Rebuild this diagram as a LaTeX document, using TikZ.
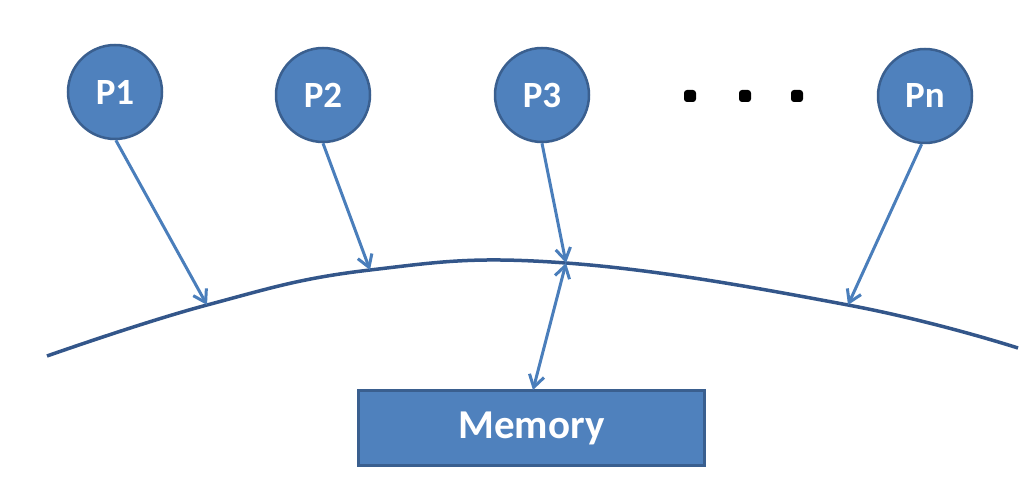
\documentclass[tikz,border=0pt]{standalone}
\usepackage{fontspec}
\setmainfont{Carlito}
\usetikzlibrary{arrows.meta}
\definecolor{pfill}{HTML}{4F81BD}
\definecolor{pline}{HTML}{3A5F8F}
\definecolor{arr}{HTML}{4A7EBB}
\definecolor{curve}{HTML}{33568A}
\tikzset{
  proc/.style={circle, draw=pline, line width=2.5pt, fill=pfill, minimum size=94pt, inner sep=0pt,
    text=white, font=\fontsize{37}{40}\selectfont\bfseries},
  mem/.style={rectangle, draw=pline, line width=2.5pt, fill=pfill, minimum width=346pt, minimum height=75pt,
    text=white, font=\fontsize{41}{44}\selectfont\bfseries},
  dotbox/.style={rectangle, rounded corners=3pt, fill=black, minimum size=12pt, inner sep=0pt},
  link/.style={draw=arr, line width=3pt, -{Straight Barb[length=12pt,width=15pt,line width=3pt]}},
  dlink/.style={draw=arr, line width=3pt, {Straight Barb[length=12pt,width=15pt,line width=3pt]}-{Straight Barb[length=12pt,width=15pt,line width=3pt]}},
  bus/.style={draw=curve, line width=3.5pt}
}
\begin{document}
\begin{tikzpicture}[x=1pt,y=-1pt]
\useasboundingbox (0,0) rectangle (1023,502);
\node[proc] (P1) at (115,92) {P1};
\node[proc] (P2) at (323,95) {P2};
\node[proc] (P3) at (542,95) {P3};
\node[proc] (Pn) at (925,96) {Pn};
\node[dotbox] (d1) at (690,96) {};
\node[dotbox] (d2) at (745,96) {};
\node[dotbox] (d3) at (797,96) {};
\node[mem] (M) at (531.5,428) {Memory};
\coordinate (c0) at (47,356);
\coordinate (c1) at (207,305);
\coordinate (c2) at (370,270);
\coordinate (c4) at (566,263);
\coordinate (c5) at (848,305);
\coordinate (c6) at (1018,348);
\coordinate (m1) at (533,390);
\draw[bus] plot[smooth, tension=0.7] coordinates {(c0) (c1) (c2) (c4) (c5) (c6)};
\draw[link] (P1.-89) -- (c1);
\draw[link] (P2.-90) -- (c2);
\draw[link] (P3.-90) -- (c4);
\draw[link] (Pn.-94) -- (c5);
\draw[dlink] (c4) -- (m1);
\end{tikzpicture}
\end{document}
